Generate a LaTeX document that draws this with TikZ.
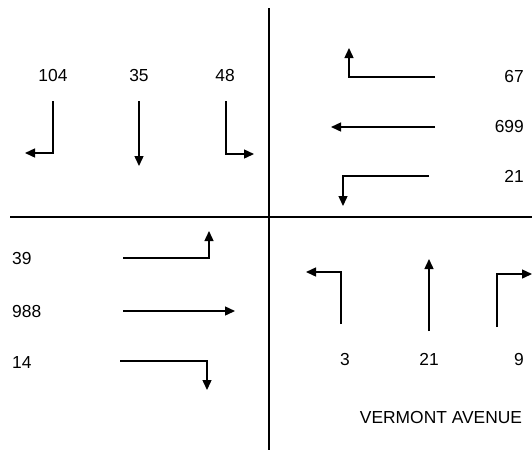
\documentclass[tikz,border=0pt]{standalone}
\usepackage{fontspec}
\setmainfont{Liberation Sans}
\usetikzlibrary{arrows.meta}

\begin{document}
\begin{tikzpicture}[x=1pt,y=-1pt,font=\fontsize{17.4}{21}\selectfont,
      road/.style={line width=2pt},
      mv/.style={-{Triangle[length=10pt,width=9pt]},line width=1.4pt},
      cnt/.style={inner sep=0pt}]
    \useasboundingbox (0,0) rectangle (532,451);
    % street lines
    \draw[road] (269,8) -- (269,450);
    \draw[road] (10,217) -- (532,217);
    % north approach
    \foreach \x/\n/\v in {53/nl/104,139/nt/35,225/nr/48}
      \node[cnt] (\n) at (\x,76) {\v};
    \draw[mv] (53,101) |- (25,153);
    \draw[mv] (139,101) -- (139,166);
    \draw[mv] (226,101) |- (254,154);
    % east approach
    \foreach \y/\n/\v in {77/er/67,127/et/699,176/el/21}
      \node[cnt,anchor=east] (\n) at (524,\y) {\v};
    \draw[mv] (435,77) -| (349,48);
    \draw[mv] (435,127) -- (331,127);
    \draw[mv] (429,176) -| (343,206);
    % west approach
    \foreach \y/\n/\v in {259/wl/39,311/wt/988,363/wr/14}
      \node[cnt,anchor=west] (\n) at (12,\y) {\v};
    \draw[mv] (123,258) -| (209,231);
    \draw[mv] (123,311) -- (235,311);
    \draw[mv] (120,361) -| (207,390);
    % south approach
    \foreach \x/\n/\v in {345/sl/3,429/st/21,519/sr/9}
      \node[cnt] (\n) at (\x,359) {\v};
    \draw[mv] (341,324) |- (306,272);
    \draw[mv] (429,331) -- (429,259);
    \draw[mv] (497,327) |- (532,274);
    \node[cnt] (street) at (441,417) {VERMONT AVENUE};
  \end{tikzpicture}
\end{document}
